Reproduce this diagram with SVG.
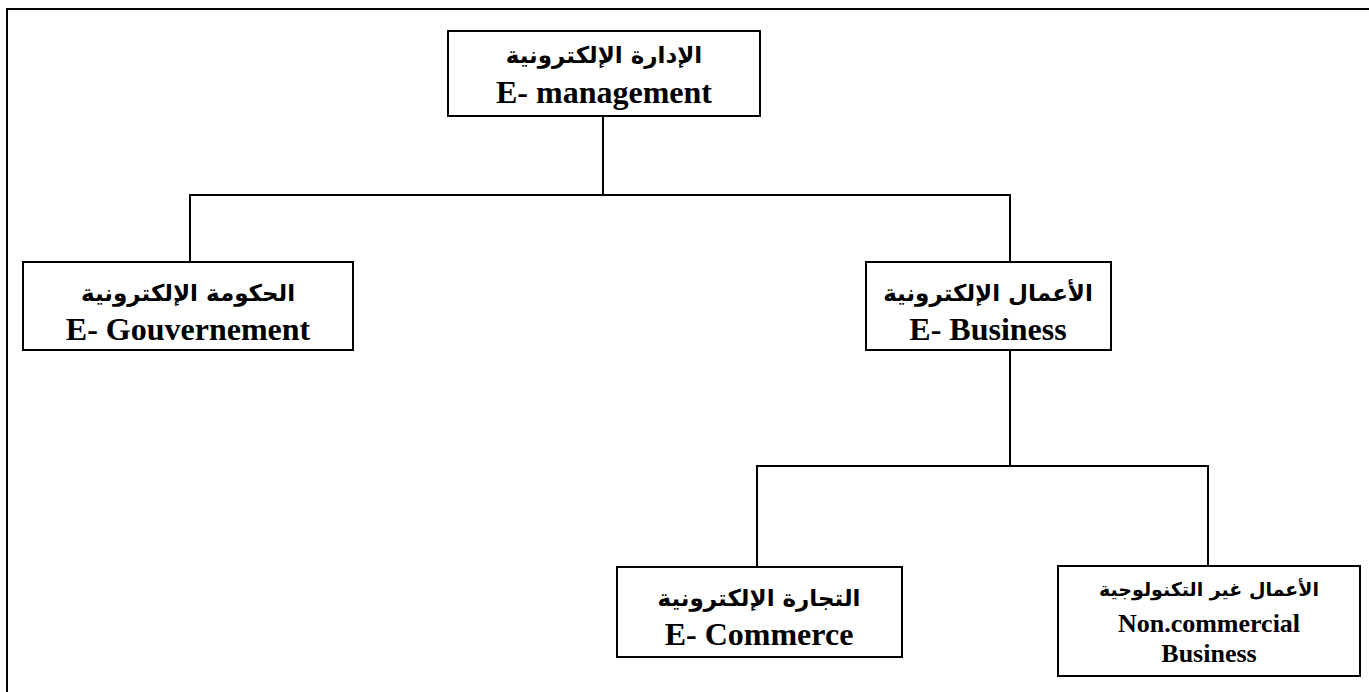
<svg xmlns="http://www.w3.org/2000/svg" width="1369" height="692" viewBox="0 0 1369 692">
<style>
.box{fill:#fff;stroke:#000;stroke-width:2}
.ln{fill:none;stroke:#000;stroke-width:2}
.ar{font-family:"DejaVu Sans","Noto Sans",sans-serif;font-weight:bold;font-size:23px;text-anchor:middle;fill:#000}
.en{font-family:"Liberation Serif","Times New Roman",serif;font-weight:bold;font-size:32px;text-anchor:middle;fill:#000}
.en2{font-family:"Liberation Serif","Times New Roman",serif;font-weight:bold;font-size:26px;text-anchor:middle;fill:#000}
.ar2{font-family:"DejaVu Sans","Noto Sans",sans-serif;font-weight:bold;font-size:19px;text-anchor:middle;fill:#000}
</style>
<rect width="1369" height="692" fill="#fff"/>
<g id="frame">
<path class="ln" d="M1369 9 H7 V692" stroke-width="3"/>
</g>
<g id="connectors">
<path class="ln" d="M603 116 V195 M190 262 V195 H1010 V262 M1010 350 V466 M757 567 V466 H1208 V566"/>
</g>
<g id="n-management">
<rect class="box" x="448" y="31" width="312" height="85"/>
<text class="ar" x="604" y="63" direction="rtl">الإدارة الإلكترونية</text>
<text class="en" x="604" y="103">E- management</text>
</g>
<g id="n-gouvernement">
<rect class="box" x="23" y="262" width="330" height="88"/>
<text class="ar" x="188" y="301" direction="rtl">الحكومة الإلكترونية</text>
<text class="en" x="188" y="340">E- Gouvernement</text>
</g>
<g id="n-business">
<rect class="box" x="866" y="262" width="245" height="88"/>
<text class="ar" x="988" y="301" direction="rtl">الأعمال الإلكترونية</text>
<text class="en" x="988" y="340">E- Business</text>
</g>
<g id="n-commerce">
<rect class="box" x="617" y="567" width="285" height="90"/>
<text class="ar" x="759" y="606" direction="rtl">التجارة الإلكترونية</text>
<text class="en" x="759" y="645">E- Commerce</text>
</g>
<g id="n-noncommercial">
<rect class="box" x="1058" y="566" width="302" height="110"/>
<text class="ar2" x="1209" y="596" direction="rtl">الأعمال غير التكنولوجية</text>
<text class="en2" x="1209" y="632">Non.commercial</text>
<text class="en2" x="1209" y="662">Business</text>
</g>
</svg>
